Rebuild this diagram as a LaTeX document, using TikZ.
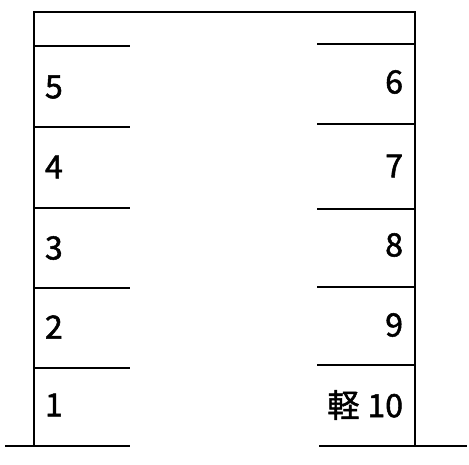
\documentclass[tikz,border=0pt]{standalone}
\usepackage{fontspec}
\setmainfont{Noto Sans CJK JP}
\newfontfamily\slotfont[FakeBold=1.6]{Noto Sans CJK JP}
\usepackage{tikz}

\begin{document}
\begin{tikzpicture}[x=1pt, y=-1pt, line width=2pt,
	slot/.style={font=\slotfont\fontsize{32}{34}\selectfont, inner sep=0pt}]
	\useasboundingbox (0,0) rectangle (469,465);
	% frame
	\draw (34,446) -- (34,12) -- (415,12) -- (415,446);
	\draw (5,446) -- (130,446);
	\draw (319,446) -- (467,446);
	% left side
	\draw (34,46) -- (130,46);
	\draw (34,127) -- (130,127);
	\draw (34,208) -- (130,208);
	\draw (34,288) -- (130,288);
	\draw (34,368) -- (130,368);
	\node[slot, anchor=west] (p5) at (44,87) {5};
	\node[slot, anchor=west] (p4) at (44,167) {4};
	\node[slot, anchor=west] (p3) at (44,248) {3};
	\node[slot, anchor=west] (p2) at (44,327) {2};
	\node[slot, anchor=west] (p1) at (44,405) {1};
	% right side
	\draw (317,44) -- (415,44);
	\draw (317,124) -- (415,124);
	\draw (317,209) -- (415,209);
	\draw (317,287) -- (415,287);
	\draw (317,365) -- (415,365);
	\node[slot, anchor=east] (p6) at (404,82) {6};
	\node[slot, anchor=east] (p7) at (404,166) {7};
	\node[slot, anchor=east] (p8) at (404,245) {8};
	\node[slot, anchor=east] (p9) at (404,325) {9};
	\node[slot, anchor=east] (p10) at (404,405) {軽\hspace{8pt}10};
\end{tikzpicture}
\end{document}
